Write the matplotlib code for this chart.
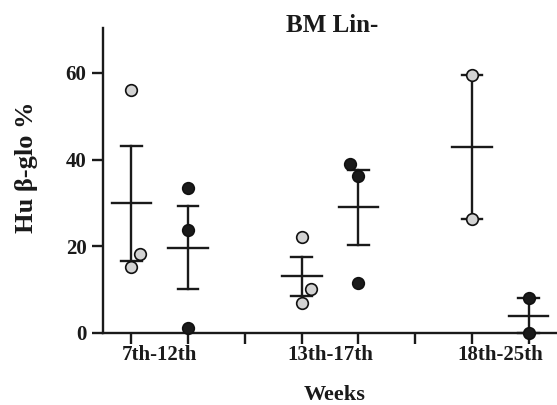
import matplotlib
matplotlib.use("Agg")
import matplotlib.pyplot as plt
import numpy as np

# Data
group_labels = ["7th-12th", "13th-17th", "18th-25th"]
positions = [1, 2, 4, 5, 7, 8]
fills = ["#d3d3d3", "#1a1a1a", "#d3d3d3", "#1a1a1a", "#d3d3d3", "#1a1a1a"]
values = [
    [56.0, 18.2, 15.2],
    [33.5, 23.8, 1.2],
    [22.1, 10.1, 7.0],
    [39.1, 36.3, 11.6],
    [59.5, 26.2],
    [8.0, 0.0],
]
jitter = [
    [0.0, 0.16, 0.0],
    [0.0, 0.0, 0.0],
    [0.0, 0.16, 0.0],
    [-0.15, 0.0, 0.0],
    [0.0, 0.0],
    [0.0, 0.0],
]
means = [30.0, 19.6, 13.1, 29.0, 43.0, 4.0]
sem_low = [16.7, 10.1, 8.5, 20.3, 26.2, 0.0]
sem_high = [43.2, 29.3, 17.5, 37.6, 59.5, 8.0]

fig = plt.figure(figsize=(5.57, 4.05), dpi=100)
ax = fig.add_axes([0.185, 0.178, 0.815, 0.753])
font = "Liberation Serif"
ink = "#1a1a1a"

for p, vals, jit, fc, m, lo, hi in zip(positions, values, jitter, fills, means, sem_low, sem_high):
    ax.plot([p, p], [lo, hi], color=ink, lw=1.7, zorder=2, clip_on=False)
    ax.plot([p - 0.18, p + 0.18], [lo, lo], color=ink, lw=1.7, zorder=2, clip_on=False)
    ax.plot([p - 0.18, p + 0.18], [hi, hi], color=ink, lw=1.7, zorder=2, clip_on=False)
    ax.plot([p - 0.35, p + 0.35], [m, m], color=ink, lw=1.7, zorder=2, clip_on=False)
    ax.scatter(np.array(jit) + p, vals, s=70, facecolor=fc, edgecolor="#111111",
               linewidth=1.2, zorder=3, clip_on=False)

ax.set_xlim(0.5, 8.5)
ax.set_ylim(0, 70.4)
ax.set_yticks([0, 20, 40, 60])
ax.set_xticks([1, 2, 3, 4, 5, 6, 7, 8])
ax.set_xticklabels([])
ax.set_xticks([1.5, 4.5, 7.5], minor=True)
ax.set_xticklabels(group_labels, minor=True)
ax.tick_params(axis="x", which="minor", length=0, pad=9)
ax.tick_params(axis="x", which="major", length=8, width=1.7, color=ink, direction="out")
ax.tick_params(axis="y", length=8, width=1.7, color=ink, direction="out", pad=4)

for lab in ax.get_xticklabels(minor=True) + ax.get_yticklabels():
    lab.set_fontfamily(font)
    lab.set_fontweight("bold")
    lab.set_fontsize(15)
    lab.set_color(ink)

for s in ["top", "right"]:
    ax.spines[s].set_visible(False)
for s in ["left", "bottom"]:
    ax.spines[s].set_linewidth(1.7)
    ax.spines[s].set_color(ink)

fig.text(0.596, 1 - 26 / 405, "BM Lin-", fontfamily=font, fontweight="bold", fontsize=18,
         color=ink, ha="center", va="center")
fig.text(27 / 557, 1 - 167 / 405, "Hu β-glo %", fontfamily=font, fontweight="bold", fontsize=19,
         color=ink, ha="center", va="center", rotation=90)
fig.text(335 / 557, 1 - 395 / 405, "Weeks", fontfamily=font, fontweight="bold", fontsize=16,
         color=ink, ha="center", va="center")

fig.savefig("out.png", dpi=100)
